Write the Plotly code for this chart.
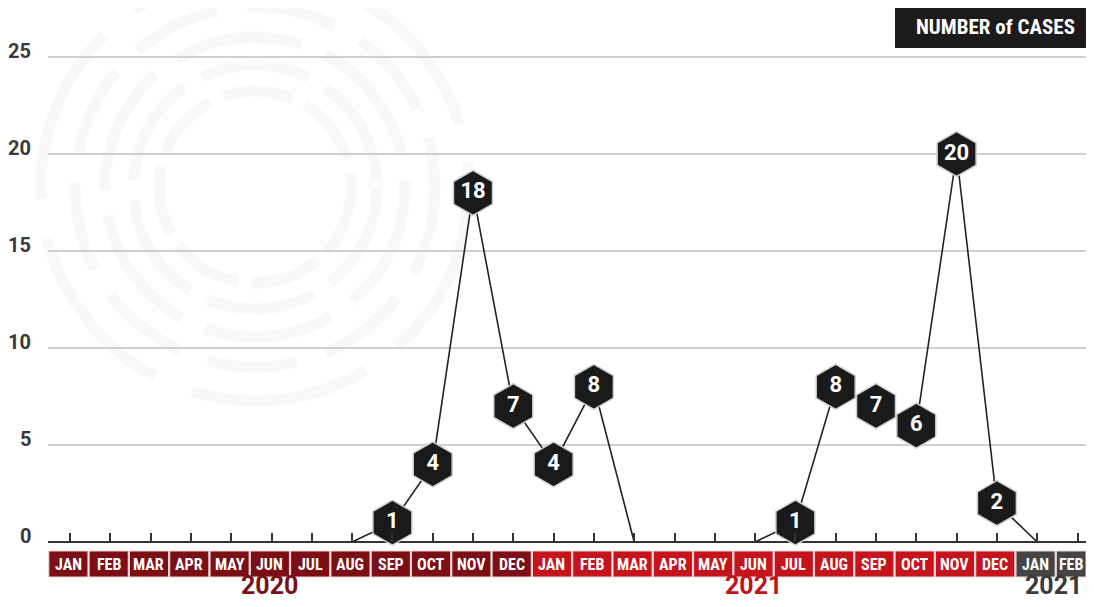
import plotly.graph_objects as go

# ---------------- data ----------------
month_labels = ["JAN", "FEB", "MAR", "APR", "MAY", "JUN", "JUL", "AUG", "SEP", "OCT", "NOV", "DEC",
                "JAN", "FEB", "MAR", "APR", "MAY", "JUN", "JUL", "AUG", "SEP", "OCT", "NOV", "DEC",
                "JAN", "FEB"]
month_group = [0] * 12 + [1] * 12 + [2] * 2
group_labels = ["2020", "2021", "2021"]
cases = [0, 0, 0, 0, 0, 0, 0, 0, 1, 4, 18, 7,
         4, 8, 0, 0, 0, 0, 1, 8, 7, 6, 20, 2,
         0, 0]
y_ticks = [0, 5, 10, 15, 20, 25]

# ---------------- style ----------------
box_colors = ["#7b0f15", "#c5141c", "#444444"]
year_colors = ["#7a1117", "#c0131b", "#3a3a3a"]
year_label_x = [4.95, 16.95, 24.4]
FONT = "Roboto"
NARROW = "Liberation Sans Narrow, Roboto Condensed, Roboto"

OFF = 8                                  # page body margin
W, H = 1094 - 2 * OFF, 607 - 2 * OFF      # figure fits the window without scrolling

def fx(ref_px):
    return ref_px - OFF

def fy(ref_px):
    return ref_px - OFF

ML = fx(48)
X0_PX, DX_PX = fx(70.0), 40.3             # first month, pixels per month
Y0_PX, DY_PX = fy(542.0), 19.4            # zero, pixels per case
xmin = (ML - X0_PX) / DX_PX
xmax = (W - X0_PX) / DX_PX
ymax = Y0_PX / DY_PX
ymin = -(H - Y0_PX) / DY_PX

def ypaper(ref_px):
    return 1 - fy(ref_px) / H

def xpaper(ref_px):
    return (fx(ref_px) - ML) / (W - ML)

n = len(cases)
xs = list(range(n))

# line only around non-zero stretches
line_y = []
for i, v in enumerate(cases):
    near = v > 0 or (i > 0 and cases[i - 1] > 0) or (i < n - 1 and cases[i + 1] > 0)
    line_y.append(v if near else None)

mk_x = [i for i in xs if cases[i] > 0]
mk_y = [cases[i] for i in mk_x]

fig = go.Figure()
fig.add_trace(go.Scatter(x=xs, y=line_y, mode="lines", connectgaps=False,
                         line=dict(color="#222222", width=1.6), hoverinfo="skip",
                         showlegend=False))
fig.add_trace(go.Scatter(x=mk_x, y=mk_y, mode="markers+text",
                         text=[f"<b>{v}</b>" for v in mk_y], textposition="middle center",
                         textfont=dict(family=FONT, size=22, color="white"),
                         marker=dict(symbol="hexagon", size=45, color="#1b1a1a",
                                     line=dict(color="#cfcfcf", width=1.5)),
                         showlegend=False, cliponaxis=False))

shapes = []
annotations = []

# watermark rings
for r, dash in [(96, "70px,14px"), (122, "110px,20px"), (150, "130px,26px"), (180, "90px,30px"), (214, "180px,40px")]:
    shapes.append(dict(type="circle", xref="paper", yref="paper", xsizemode="pixel", ysizemode="pixel",
                       xanchor=xpaper(255), yanchor=ypaper(187), x0=-r, x1=r, y0=-r, y1=r,
                       line=dict(color="#f8f8f8", width=11, dash=dash), layer="below"))

# month boxes
for i, (lab, g) in enumerate(zip(month_labels, month_group)):
    bx0 = i - 0.04 - 0.485
    bx1 = min(i - 0.04 + 0.485, xmax)
    shapes.append(dict(type="rect", xref="x", yref="paper",
                       x0=bx0, x1=bx1, y0=ypaper(577), y1=ypaper(551),
                       fillcolor=box_colors[g], line=dict(color="#ead6d6", width=1), layer="above"))
    annotations.append(dict(x=(bx0 + bx1) / 2, y=ypaper(564.5), xref="x", yref="paper",
                            xanchor="center", yanchor="middle",
                            text=f"<b>{lab}</b>", showarrow=False,
                            font=dict(family=NARROW, size=16, color="white")))

# year labels
for lab, xc, col in zip(group_labels, year_label_x, year_colors):
    annotations.append(dict(x=xc, y=ypaper(585), xref="x", yref="paper",
                            xanchor="center", yanchor="middle",
                            text=f"<b>{lab}</b>", showarrow=False,
                            font=dict(family=FONT, size=25, color=col)))

# y tick labels
for v in y_ticks:
    annotations.append(dict(x=0, y=v, xref="paper", yref="y", xanchor="right", yanchor="middle",
                            xshift=-15, yshift=6, text=f"<b>{v}</b>", showarrow=False,
                            font=dict(family=FONT, size=20, color="#3a3a3a")))

# header box
shapes.append(dict(type="rect", xref="paper", yref="paper",
                   x0=xpaper(895), x1=1.0, y0=ypaper(48), y1=1.0,
                   fillcolor="#1c1a1a", line=dict(width=0), layer="above"))
annotations.append(dict(x=xpaper(995), y=ypaper(27), xref="paper", yref="paper",
                        xanchor="center", yanchor="middle",
                        text="<b>NUMBER of CASES</b>", showarrow=False,
                        font=dict(family=NARROW, size=21, color="white")))

fig.update_layout(
    width=W, height=H,
    margin=dict(l=ML, r=0, t=0, b=0),
    paper_bgcolor="white", plot_bgcolor="rgba(0,0,0,0)",
    shapes=shapes, annotations=annotations,
    xaxis=dict(range=[xmin, xmax], showgrid=False, zeroline=False, showline=False,
               tickvals=xs, ticks="inside", ticklen=9, tickwidth=1.5, tickcolor="#333333",
               showticklabels=False, anchor="free",
               position=(0 - ymin) / (ymax - ymin)),
    yaxis=dict(range=[ymin, ymax], tickvals=y_ticks, showgrid=True, gridcolor="#cfcfcf",
               gridwidth=2, zeroline=True, zerolinecolor="#333333", zerolinewidth=2,
               showticklabels=False, ticks=""),
)

fig.write_html("out.html")
